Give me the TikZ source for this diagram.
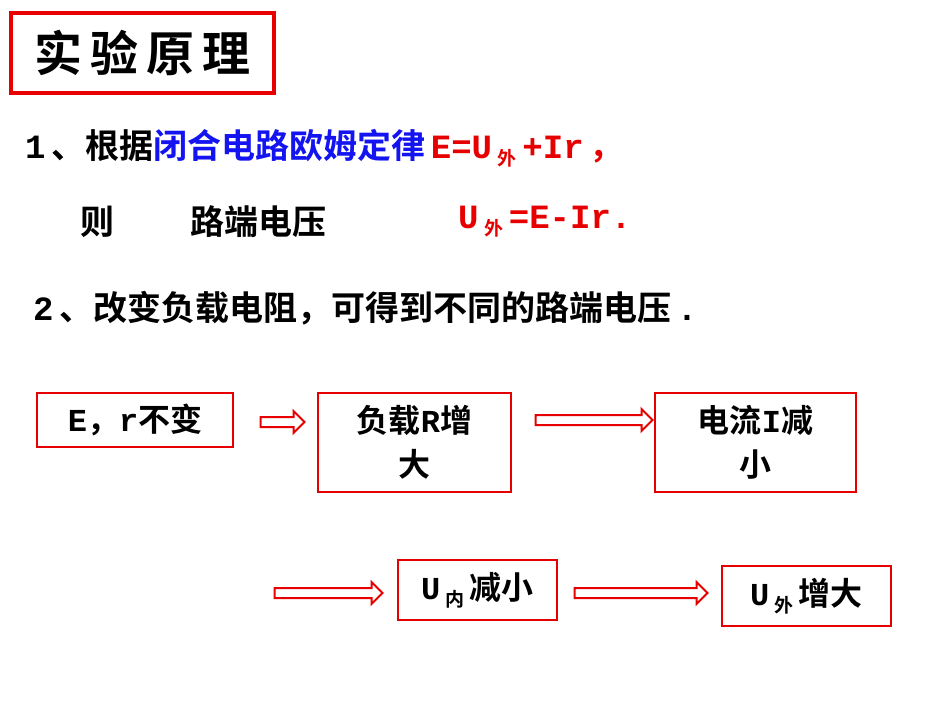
\documentclass[tikz,border=0pt]{standalone}
\usepackage{fontspec}
\setmainfont{Noto Sans CJK SC Bold}
\newfontfamily\mono{Liberation Mono Bold}
\newcommand{\lt}[1]{{\mono #1}}
\newcommand{\sub}[1]{\,\raisebox{-7pt}{\fontsize{19}{19}\selectfont #1}\,}
\usetikzlibrary{shapes.arrows}
\definecolor{rd}{RGB}{230,0,0}
\definecolor{bl}{RGB}{20,20,240}
\begin{document}
\begin{tikzpicture}[x=1pt,y=-1pt,
 txt/.style={anchor=west,inner sep=0,font=\fontsize{34}{38}\selectfont},
 box/.style={draw=rd,line width=2pt,align=center,font=\fontsize{32}{44}\selectfont,inner sep=0},
 harrow/.style={single arrow,draw=rd,fill=white,line width=2pt,inner sep=0,single arrow head extend=6pt,single arrow tip angle=90,minimum height=#1}]
\fill[white] (0,0) rectangle (950,713);
\useasboundingbox (0,0) rectangle (950,713);
\node[draw=rd,line width=4pt,minimum width=263pt,minimum height=80pt,anchor=north west,font=\fontsize{48}{48}\selectfont] (title) at (9,11) {实\,验\,原\,理};
\node[txt] (l1) at (25,148) {\lt{1\,}、根据\textcolor{bl}{闭合电路欧姆定律}\,\textcolor{rd}{\lt{E=U}\sub{外}\lt{+Ir\,}，}};
\node[txt] (l2a) at (80,222) {则};
\node[txt] (l2b) at (190,222) {路端电压};
\node[txt,text=rd] (l2c) at (458,222) {\lt{U}\sub{外}\lt{=E-Ir.}};
\node[txt] (l3) at (33,308) {\lt{2\,}、改变负载电阻，可得到不同的路端电压\lt{\,.}};
\node[box,minimum width=196pt,minimum height=54pt] (b1) at (135,420) {\lt{E}，\lt{r}不变};
\node[box,minimum width=193pt,minimum height=99pt] (b2) at (414.5,442.5) {负载\lt{R}增\\大};
\node[box,minimum width=201pt,minimum height=99pt] (b3) at (755.5,442.5) {电流\lt{I}减\\小};
\node[box,minimum width=159pt,minimum height=60pt] (b4) at (477.5,590) {\lt{U}\sub{内}减小};
\node[box,minimum width=169pt,minimum height=60pt] (b5) at (806.5,596) {\lt{U}\sub{外}增大};
\node[harrow=44pt] (a1) at (280,422) {\rule{0pt}{8pt}};
\node[harrow=117pt] (a2) at (591.5,420) {\rule{0pt}{8pt}};
\node[harrow=108pt] (a3) at (326,593) {\rule{0pt}{8pt}};
\node[harrow=133pt] (a4) at (638.5,593) {\rule{0pt}{8pt}};
\end{tikzpicture}
\end{document}
